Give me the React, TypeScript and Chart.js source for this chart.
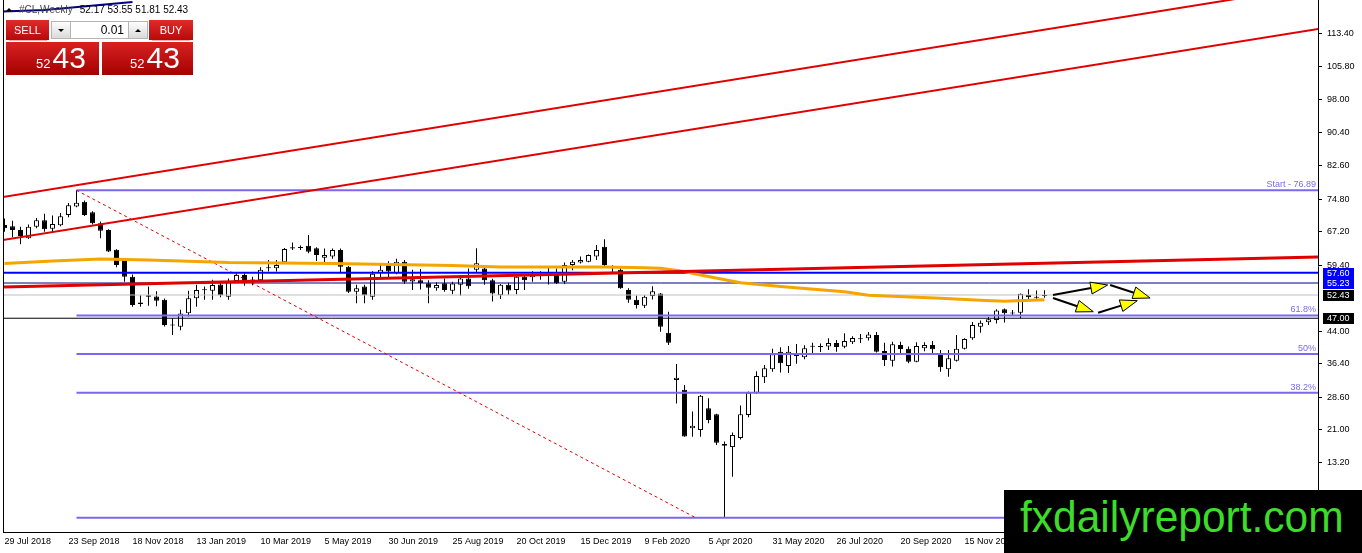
import React, { useEffect, useRef } from 'react';
import { Chart, registerables } from 'chart.js';

Chart.register(...registerables);

// ---------- data ----------
const tickLabels = [
  '29 Jul 2018', '23 Sep 2018', '18 Nov 2018', '13 Jan 2019', '10 Mar 2019', '5 May 2019',
  '30 Jun 2019', '25 Aug 2019', '20 Oct 2019', '15 Dec 2019', '9 Feb 2020', '5 Apr 2020',
  '31 May 2020', '26 Jul 2020', '20 Sep 2020', '15 Nov 2020',
];
const tickWeeks = [0, 8, 16, 24, 32, 40, 48, 56, 64, 72, 80, 88, 96, 104, 112, 120];
const priceTicks = [113.4, 105.8, 98.0, 90.4, 82.6, 74.8, 67.2, 59.4, 44.0, 36.4, 28.6, 21.0, 13.2];

const opens = [
  68.8, 68.5, 67.6, 65.7, 68.4, 69.9, 67.9, 68.7, 71.1, 73.1,
  74.2, 71.75, 69.2, 67.6, 63.0, 60.6, 56.7, 50.3, 52.0, 52.1,
  51.3, 45.4, 45.0, 48.15, 51.66, 53.7, 53.4, 54.9, 52.0, 55.7,
  57.1, 55.8, 55.9, 58.7, 58.7, 60.1, 63.3, 63.5, 63.95, 63.35,
  61.15, 61.4, 62.95, 59.05, 53.2, 54.4, 52.0, 57.5, 59.45, 57.5,
  60.2, 55.6, 55.9, 55.15, 54.0, 55.15, 53.4, 54.8, 56.3, 58.3,
  58.65, 55.9, 52.4, 54.8, 53.6, 56.7, 56.6, 57.4, 57.3, 57.1,
  55.55, 59.45, 60.0, 60.2, 61.4, 63.7, 59.2, 58.3, 53.6, 51.3,
  49.9, 52.2, 52.8, 43.6, 32.6, 30.3, 21.3, 20.9, 26.0, 24.6,
  17.65, 16.9, 19.0, 24.4, 29.6, 33.2, 35.1, 39.2, 35.85, 38.2,
  37.9, 40.35, 40.3, 40.4, 41.2, 40.35, 41.4, 42.3, 42.3, 43.1,
  39.35, 37.1, 40.75, 39.9, 36.85, 40.0, 40.75, 38.8, 35.1, 37.1,
  39.9, 42.3, 45.0, 46.05, 46.6, 49.1, 48.2, 48.3, 52.43, 52.0,
  52.17,
];
const highs = [
  70.3, 69.8, 68.4, 68.9, 70.4, 71.4, 71.0, 71.6, 73.9, 76.89,
  74.5, 72.0, 69.6, 67.8, 63.1, 60.7, 57.2, 52.4, 54.4, 53.3,
  51.6, 47.0, 49.0, 53.4, 54.8, 54.4, 56.0, 55.6, 56.3, 57.5,
  57.5, 56.7, 58.9, 60.6, 60.6, 63.4, 64.7, 64.0, 66.45, 63.6,
  63.3, 63.3, 63.3, 59.2, 54.8, 54.8, 58.0, 59.6, 60.3, 60.9,
  60.6, 58.3, 58.5, 55.9, 55.4, 56.3, 55.5, 57.1, 58.6, 63.35,
  59.0, 56.2, 55.0, 55.3, 57.2, 57.4, 58.0, 58.0, 58.9, 58.6,
  60.0, 60.6, 61.4, 61.9, 64.1, 65.45, 59.4, 58.8, 54.0, 52.3,
  52.4, 54.5, 52.9, 48.5, 36.3, 31.4, 25.2, 29.1, 28.3, 24.7,
  18.2, 20.3, 26.6, 29.9, 34.6, 36.1, 39.9, 40.2, 40.5, 41.0,
  40.7, 41.3, 41.1, 42.3, 41.9, 43.5, 42.8, 43.3, 43.8, 43.8,
  41.3, 41.5, 41.5, 40.4, 41.4, 41.4, 41.7, 39.6, 39.6, 43.1,
  42.3, 46.1, 46.5, 47.3, 49.1, 49.3, 48.9, 52.8, 53.8, 53.5,
  53.55,
];
const lows = [
  67.2, 65.9, 64.3, 65.5, 68.0, 67.2, 67.0, 68.5, 70.6, 72.9,
  70.9, 68.9, 65.7, 62.5, 58.9, 55.5, 49.7, 49.7, 49.9, 49.8,
  45.1, 43.1, 44.2, 47.4, 49.7, 51.3, 51.3, 51.9, 51.3, 55.3,
  54.6, 54.7, 55.7, 57.9, 57.9, 59.9, 62.95, 62.95, 62.2, 60.4,
  60.1, 60.9, 57.5, 52.9, 50.5, 50.5, 51.3, 56.5, 56.6, 57.3,
  55.0, 53.6, 53.7, 50.5, 53.4, 53.2, 52.6, 52.3, 53.9, 57.6,
  54.8, 50.9, 51.5, 52.5, 52.6, 53.6, 55.5, 56.0, 54.9, 55.0,
  55.0, 58.2, 59.8, 60.1, 60.6, 58.8, 57.4, 53.9, 50.6, 49.3,
  49.4, 51.4, 43.85, 40.75, 27.1, 19.3, 19.3, 19.3, 22.5, 17.4,
  0.4, 10.0, 18.7, 23.9, 29.3, 31.9, 34.5, 34.3, 34.2, 36.4,
  37.4, 38.9, 39.1, 39.6, 39.2, 40.0, 41.0, 41.2, 41.8, 39.0,
  35.85, 35.7, 38.6, 36.5, 36.7, 39.3, 38.9, 34.5, 33.35, 36.9,
  39.7, 42.0, 43.6, 45.4, 45.8, 46.0, 47.5, 47.0, 51.4, 51.5,
  51.81,
];
const closes = [
  68.0, 67.6, 66.2, 68.4, 69.9, 67.8, 69.0, 70.8, 73.4, 74.0,
  71.1, 69.2, 67.45, 62.6, 59.45, 56.7, 50.1, 50.7, 52.4, 51.1,
  45.4, 45.3, 48.1, 51.66, 53.6, 53.55, 54.77, 52.4, 55.55, 57.1,
  55.7, 55.95, 58.3, 58.9, 59.45, 63.2, 63.6, 63.4, 62.55, 61.8,
  61.8, 62.95, 59.05, 53.2, 54.0, 52.4, 57.4, 58.3, 57.9, 60.2,
  55.55, 56.1, 55.2, 54.1, 54.77, 53.6, 55.1, 56.3, 54.5, 59.85,
  55.9, 52.8, 54.8, 53.5, 56.7, 55.9, 57.4, 57.2, 57.4, 55.15,
  59.45, 60.2, 60.6, 61.8, 62.95, 59.45, 58.7, 54.0, 51.3, 50.1,
  52.0, 53.3, 45.0, 41.3, 33.1, 19.35, 21.9, 28.9, 23.25, 17.9,
  17.2, 19.75, 24.55, 29.6, 33.5, 35.3, 38.6, 36.5, 39.2, 38.65,
  40.0, 40.4, 40.4, 41.2, 40.3, 41.7, 42.4, 42.3, 43.2, 39.2,
  37.25, 40.95, 39.8, 36.85, 40.5, 40.75, 39.75, 35.55, 37.65, 39.9,
  42.15, 45.4, 45.95, 46.75, 48.8, 48.15, 48.1, 52.7, 51.9, 52.0,
  52.43,
];

// moving average (orange) at these weeks
const maWeeks = [0, 6, 12, 18, 28, 41, 56, 62, 75, 80, 82, 85, 87, 92, 97, 105, 108, 117, 122, 125, 130];
const maValues = [59.8, 60.4, 60.85, 60.6, 60.0, 59.8, 59.3, 59.0, 59.0, 58.8, 58.7, 57.9, 57.1, 55.3, 54.4, 53.2, 52.4, 51.7, 51.2, 51.0, 51.3];

// trend lines [week, price]
const channelUpper = [[-1, 75.07], [165, 124.92]];
const channelLower = [[-1, 65.02], [165, 114.8]];
const redTrend = [[-1, 54.26], [165, 61.33]];
const headerTrend = [[-0.6, 118.6], [5, 119.0], [16, 120.9]];
const fibDiagonal = [[9, 76.89], [86.4, 0.4]];

// fibonacci retracement
const fibStartWeek = 9;
const lineEndWeek = 165;
const fibLevels = [76.89, 47.67, 38.65, 29.62, 0.4];
const fibLabels = ['Start - 76.89', '61.8%', '50%', '38.2%', ''];

// horizontal levels
const blueLevel = 57.6;
const navyLevel = 55.23;
const bidLevel = 52.43;
const blackLevel = 47.0;
const priceBoxes = [57.6, 55.23, 52.43, 47.0];

// forecast arrows [week, price]
const arrowFrom = [[131.06, 52.43], [138.2, 54.77], [131.06, 51.73], [136.7, 48.3]];
const arrowTo = [[137.9, 54.77], [143.2, 51.73], [136.1, 48.53], [141.6, 51.1]];

// ---------- chart ----------
const AXIS_FAMILY = '"Liberation Sans", Arial, sans-serif';

const pts = (arr: number[][]) => arr.map(([x, y]) => ({ x, y }));

function lineDs(data: any[], color: string, width: number, order: number, dash: number[] = []) {
  return {
    type: 'line' as const,
    data,
    borderColor: color,
    backgroundColor: color,
    borderWidth: width,
    borderDash: dash,
    pointRadius: 0,
    pointHoverRadius: 0,
    fill: false,
    tension: 0,
    order,
    borderCapStyle: 'butt' as const,
  };
}

const overlayPlugin = {
  id: 'overlay',
  afterDatasetsDraw(chart: any) {
    const { ctx, chartArea, scales } = chart;
    const x = scales.x;
    const y = scales.y;
    ctx.save();
    ctx.beginPath();
    ctx.rect(chartArea.left, chartArea.top, chartArea.right - chartArea.left, chartArea.bottom - chartArea.top);
    ctx.clip();

    // arrows
    arrowFrom.forEach((f, i) => {
      const t = arrowTo[i];
      const x1 = x.getPixelForValue(f[0]);
      const y1 = y.getPixelForValue(f[1]);
      const x2 = x.getPixelForValue(t[0]);
      const y2 = y.getPixelForValue(t[1]);
      const ang = Math.atan2(y2 - y1, x2 - x1);
      const headLen = 17;
      const halfW = 6;
      const bx = x2 - headLen * Math.cos(ang);
      const by = y2 - headLen * Math.sin(ang);
      ctx.strokeStyle = '#000';
      ctx.lineWidth = 2;
      ctx.beginPath();
      ctx.moveTo(x1, y1);
      ctx.lineTo(bx, by);
      ctx.stroke();
      ctx.beginPath();
      ctx.moveTo(x2, y2);
      ctx.lineTo(bx + halfW * Math.sin(ang), by - halfW * Math.cos(ang));
      ctx.lineTo(bx - halfW * Math.sin(ang), by + halfW * Math.cos(ang));
      ctx.closePath();
      ctx.fillStyle = '#FFFF00';
      ctx.fill();
      ctx.lineWidth = 1;
      ctx.stroke();
    });

    // fib labels
    ctx.font = `9px ${AXIS_FAMILY}`;
    ctx.fillStyle = '#7B68EE';
    ctx.textAlign = 'right';
    ctx.textBaseline = 'bottom';
    fibLevels.forEach((lv, i) => {
      if (fibLabels[i]) ctx.fillText(fibLabels[i], chartArea.right - 2, y.getPixelForValue(lv) - 1);
    });
    ctx.restore();

    // left frame line
    ctx.save();
    ctx.strokeStyle = '#000';
    ctx.lineWidth = 1;
    ctx.beginPath();
    ctx.moveTo(chartArea.left + 0.5, chartArea.top);
    ctx.lineTo(chartArea.left + 0.5, chartArea.bottom);
    ctx.stroke();
    ctx.restore();
  },
  afterDraw(chart: any) {
    const { ctx, chartArea, scales } = chart;
    const y = scales.y;
    ctx.save();
    ctx.font = `9px ${AXIS_FAMILY}`;
    ctx.textAlign = 'left';
    ctx.textBaseline = 'middle';
    priceBoxes.forEach((v, i) => {
      const py = Math.round(y.getPixelForValue(v));
      ctx.fillStyle = i < 2 ? '#0000FF' : '#000000';
      ctx.fillRect(chartArea.right + 5, py - 5, 31, 11);
      ctx.fillStyle = '#FFFFFF';
      ctx.fillText(v.toFixed(2), chartArea.right + 9, py + 0.5);
    });
    ctx.restore();
  },
};

function CSSTriangle({ up, size = 3 }: { up: boolean; size?: number }) {
  return (
    <div
      style={{
        width: 0,
        height: 0,
        borderLeft: `${size}px solid transparent`,
        borderRight: `${size}px solid transparent`,
        ...(up ? { borderBottom: `${size}px solid #000` } : { borderTop: `${size}px solid #000` }),
      }}
    />
  );
}

export default function App() {
  const canvasRef = useRef<HTMLCanvasElement>(null);
  const wmRef = useRef<HTMLSpanElement>(null);

  useEffect(() => {
    const weeks = opens.map((_, i) => i);
    const wickData = weeks.map((i) => ({ x: i, y: [lows[i], highs[i]] }));
    const bodyData = weeks.map((i) => ({ x: i, y: [opens[i], closes[i]] }));
    const bodyFill = weeks.map((i) => (closes[i] >= opens[i] ? '#FFFFFF' : '#000000'));
    const hline = (v: number) => [{ x: -1, y: v }, { x: lineEndWeek, y: v }];
    const fibLine = (v: number) => [{ x: fibStartWeek, y: v }, { x: lineEndWeek, y: v }];

    const datasets: any[] = [
      {
        type: 'bar',
        data: wickData,
        backgroundColor: '#000000',
        borderWidth: 0,
        barThickness: 1,
        grouped: false,
        inflateAmount: 0,
        order: 20,
      },
      {
        type: 'bar',
        data: bodyData,
        backgroundColor: bodyFill,
        borderColor: '#000000',
        borderWidth: 1,
        borderSkipped: false,
        barThickness: 5,
        grouped: false,
        inflateAmount: 0,
        minBarLength: 1,
        order: 19,
      },
      lineDs(hline(bidLevel), '#C0C0C0', 1, 12),
      lineDs(hline(blackLevel), '#000000', 1, 11),
      ...fibLevels.map((lv) => lineDs(fibLine(lv), '#7B68EE', 2, 10)),
      lineDs(pts(fibDiagonal), '#E00000', 1, 9, [3, 3]),
      lineDs(hline(navyLevel), '#000080', 1, 8),
      lineDs(hline(blueLevel), '#0000FF', 2, 7),
      lineDs(maWeeks.map((w, i) => ({ x: w, y: maValues[i] })), '#F5A500', 3, 6),
      lineDs(pts(redTrend), '#E00000', 3, 5),
      lineDs(pts(channelUpper), '#E00000', 2, 4),
      lineDs(pts(channelLower), '#E00000', 2, 4),
      lineDs(pts(headerTrend), '#000080', 2, 3),
    ];

    const chart = new Chart(canvasRef.current as HTMLCanvasElement, {
      type: 'bar',
      data: { datasets },
      plugins: [overlayPlugin],
      options: {
        animation: false,
        responsive: true,
        maintainAspectRatio: false,
        events: [],
        layout: { padding: { left: 3, top: 0, right: 0, bottom: 0 } },
        plugins: { legend: { display: false }, tooltip: { enabled: false } },
        scales: {
          x: {
            type: 'linear',
            position: 'bottom',
            min: -0.1875,
            max: 164.1875,
            offset: false,
            grid: { display: false, drawTicks: false },
            border: { display: true, color: '#000000', width: 1 },
            ticks: {
              autoSkip: false,
              maxRotation: 0,
              minRotation: 0,
              align: 'start',
              padding: 4,
              color: '#000000',
              font: { family: AXIS_FAMILY, size: 9 },
              callback: (value: any) => {
                const i = tickWeeks.indexOf(Number(value));
                return i >= 0 ? tickLabels[i] : '';
              },
            },
            afterBuildTicks: (axis: any) => {
              axis.ticks = tickWeeks.map((v) => ({ value: v }));
            },
            afterFit: (axis: any) => {
              axis.height = 21;
              axis.paddingLeft = 0;
              axis.paddingRight = 0;
              axis.paddingTop = 0;
              axis.paddingBottom = 0;
            },
          },
          y: {
            type: 'linear',
            position: 'right',
            min: -2.93,
            max: 121.34,
            grid: { display: true, drawOnChartArea: false, drawTicks: true, tickLength: 4, color: '#000000' },
            border: { display: true, color: '#000000', width: 1 },
            ticks: {
              padding: 5,
              color: '#000000',
              font: { family: AXIS_FAMILY, size: 9 },
              callback: (v: any) => Number(v).toFixed(2),
            },
            afterBuildTicks: (axis: any) => {
              axis.ticks = priceTicks.map((v) => ({ value: v }));
            },
            afterFit: (axis: any) => {
              axis.width = 44;
              axis.paddingTop = 0;
              axis.paddingBottom = 0;
              axis.paddingLeft = 0;
              axis.paddingRight = 0;
            },
          },
        },
      } as any,
    });

    const el = wmRef.current;
    if (el) {
      const w = el.offsetWidth;
      if (w > 0) el.style.transform = `scaleX(${324 / w})`;
    }

    return () => chart.destroy();
  }, []);

  const red = 'linear-gradient(#e12a2a, #b80a0a)';
  const redBig = 'linear-gradient(#d82222, #a50000)';
  const panelFont = '"Liberation Sans", Arial, sans-serif';

  return (
    <div style={{ position: 'absolute', left: 0, top: 0, width: 1362, height: 553, background: '#fff', overflow: 'hidden' }}>
      <canvas ref={canvasRef} style={{ position: 'absolute', left: 0, top: 0, width: 1362, height: 553 }} />

      {/* header */}
      <div style={{ position: 'absolute', left: 6, top: 4, height: 12, display: 'flex', alignItems: 'center', font: `10px ${panelFont}`, lineHeight: '12px', whiteSpace: 'nowrap' }}>
        <div style={{ marginRight: 7, marginTop: -1 }}><CSSTriangle up size={3} /></div>
        <span style={{ color: '#444' }}>#CL,Weekly</span>
        <span style={{ color: '#000', marginLeft: 7 }}>52.17 53.55 51.81 52.43</span>
      </div>

      {/* one click trading panel */}
      <div style={{ position: 'absolute', left: 6, top: 20, width: 43, height: 20, background: red, color: '#fff', font: `11px ${panelFont}`, lineHeight: '20px', textAlign: 'center' }}>SELL</div>
      <div style={{ position: 'absolute', left: 9, top: 40, width: 38, height: 1, background: '#f3b0b0' }} />
      <div style={{ position: 'absolute', left: 51, top: 21, width: 20, height: 18, boxSizing: 'border-box', border: '1px solid #b5b5b5', background: 'linear-gradient(#fefefe, #dadada)', display: 'flex', alignItems: 'center', justifyContent: 'center' }}>
        <CSSTriangle up={false} size={3} />
      </div>
      <div style={{ position: 'absolute', left: 71, top: 21, width: 57, height: 18, boxSizing: 'border-box', borderTop: '1px solid #b5b5b5', borderBottom: '1px solid #b5b5b5', background: '#fff', font: `12px ${panelFont}`, lineHeight: '16px', textAlign: 'right', paddingRight: 4, color: '#000' }}>0.01</div>
      <div style={{ position: 'absolute', left: 128, top: 21, width: 20, height: 18, boxSizing: 'border-box', border: '1px solid #b5b5b5', background: 'linear-gradient(#fefefe, #dadada)', display: 'flex', alignItems: 'center', justifyContent: 'center' }}>
        <CSSTriangle up size={3} />
      </div>
      <div style={{ position: 'absolute', left: 149, top: 20, width: 44, height: 20, background: red, color: '#fff', font: `11px ${panelFont}`, lineHeight: '20px', textAlign: 'center' }}>BUY</div>
      <div style={{ position: 'absolute', left: 152, top: 40, width: 38, height: 1, background: '#f3b0b0' }} />

      <div style={{ position: 'absolute', left: 6, top: 42, width: 93, height: 33, background: redBig }} />
      <div style={{ position: 'absolute', left: 102, top: 42, width: 91, height: 33, background: redBig }} />
      <div style={{ position: 'absolute', left: 36, top: 43, display: 'flex', alignItems: 'baseline', color: '#fff', fontFamily: panelFont, lineHeight: 1 }}>
        <span style={{ fontSize: 13 }}>52</span>
        <span style={{ fontSize: 30, marginLeft: 2 }}>43</span>
      </div>
      <div style={{ position: 'absolute', left: 130, top: 43, display: 'flex', alignItems: 'baseline', color: '#fff', fontFamily: panelFont, lineHeight: 1 }}>
        <span style={{ fontSize: 13 }}>52</span>
        <span style={{ fontSize: 30, marginLeft: 2 }}>43</span>
      </div>

      {/* watermark */}
      <div style={{ position: 'absolute', left: 1004, top: 490, width: 358, height: 63, background: '#000' }}>
        <span
          ref={wmRef}
          style={{
            position: 'absolute',
            left: 16,
            top: 4,
            font: `45px "Liberation Sans Narrow", "Liberation Sans", Arial, sans-serif`,
            lineHeight: 1,
            color: '#3ddc2a',
            whiteSpace: 'nowrap',
            transformOrigin: 'left top',
            display: 'inline-block',
          }}
        >
          fxdailyreport.com
        </span>
      </div>
    </div>
  );
}
